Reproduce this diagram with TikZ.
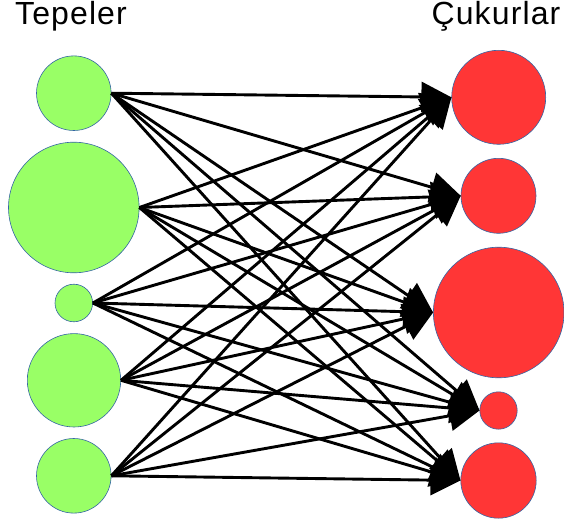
\documentclass[tikz,border=0pt]{standalone}
\usepackage{fontspec}
\setmainfont{Liberation Sans}
\newfontfamily\titlefont[LetterSpace=3.5]{Liberation Sans}
\usetikzlibrary{arrows.meta}
\definecolor{hill}{RGB}{153,255,102}
\definecolor{pit}{RGB}{255,54,54}
\definecolor{rim}{RGB}{52,101,164}
\begin{document}
\begin{tikzpicture}[x=1pt,y=-1pt,
  hillnode/.style={circle,draw=rim,line width=0.6pt,fill=hill,inner sep=0pt,minimum size=#1},
  pitnode/.style={circle,draw=rim,line width=0.6pt,fill=pit,inner sep=0pt,minimum size=#1},
  flow/.style={line width=2.9pt,-{Triangle[length=30pt,width=30pt]}},
  title/.style={font=\titlefont\fontsize{32}{36}\selectfont,inner sep=0pt,anchor=base}]
\useasboundingbox (0,0) rectangle (564,524);
\node[title] (tl) at (71,25) {Tepeler};
\node[title] (tr) at (496,25) {Çukurlar};
\node[hillnode=74.6pt] (l1) at (73.8,93.2) {};
\node[hillnode=130.6pt] (l2) at (73.8,207.5) {};
\node[hillnode=37.6pt] (l3) at (73.8,303) {};
\node[hillnode=93.4pt] (l4) at (74,380.3) {};
\node[hillnode=74.6pt] (l5) at (73.8,475.8) {};
\node[pitnode=94pt] (r1) at (498.7,97.3) {};
\node[pitnode=75pt] (r2) at (498.5,195.8) {};
\node[pitnode=130.6pt] (r3) at (498.7,312.5) {};
\node[pitnode=37.4pt] (r4) at (498.5,410.5) {};
\node[pitnode=75.4pt] (r5) at (498.5,480.5) {};
\foreach \a in {l1,l2,l3,l4,l5}
  \foreach \b in {r1,r2,r3,r4,r5}
    \draw[flow] (\a.east) -- (\b.west);
\end{tikzpicture}
\end{document}
